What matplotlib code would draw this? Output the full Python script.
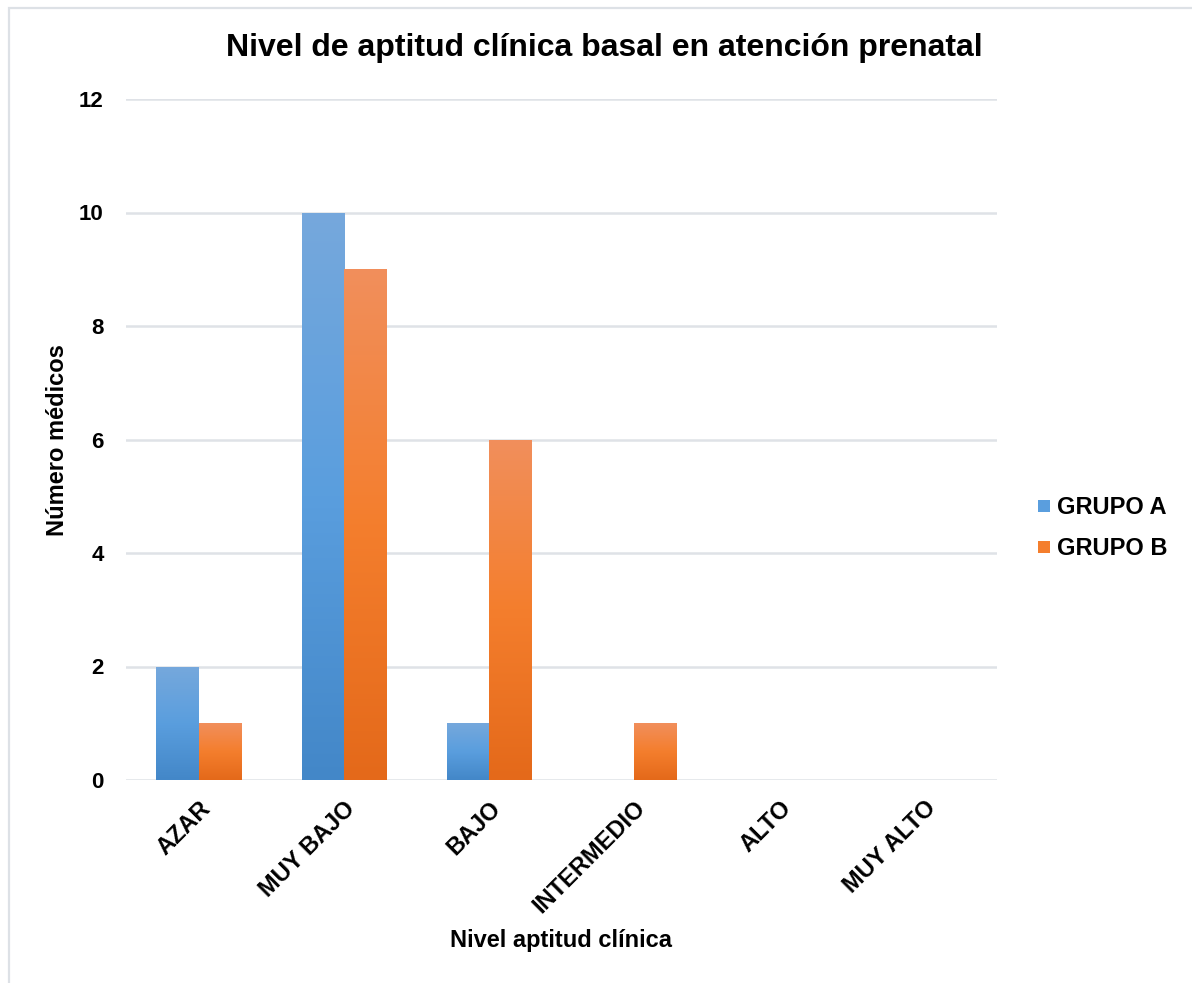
import numpy as np
import matplotlib
matplotlib.use("Agg")
import matplotlib.pyplot as plt
from matplotlib.colors import LinearSegmentedColormap
from matplotlib.patches import Rectangle
from matplotlib.lines import Line2D

plt.rcParams['font.family'] = ['Liberation Sans', 'DejaVu Sans']
plt.rcParams['font.weight'] = 'bold'

categories = ["AZAR", "MUY BAJO", "BAJO", "INTERMEDIO", "ALTO", "MUY ALTO"]
grupo_a = [2, 10, 1, 0, 0, 0]
grupo_b = [1, 9, 6, 1, 0, 0]
series_names = ["GRUPO A", "GRUPO B"]
y_ticks = [0, 2, 4, 6, 8, 10, 12]

# top -> bottom gradient stops for each series
grad_a = ["#76A8DC", "#5A9EDE", "#4387C8"]
grad_b = ["#F18F5C", "#F47E2D", "#E4691A"]

W, H = 1192, 983
fig = plt.figure(figsize=(W / 100, H / 100), dpi=100)
ax = fig.add_axes([126 / W, 1 - 780 / H, (997 - 126) / W, (780 - 99) / H])

x = np.arange(len(categories))
bw = 0.29


def gradient_bars(xpos, vals, stops, label):
    bars = ax.bar(xpos, vals, bw, color=stops[1], label=label, zorder=3,
                  linewidth=0)
    cmap = LinearSegmentedColormap.from_list("g", stops[::-1])
    grad = np.linspace(0, 1, 256).reshape(-1, 1)
    for b in bars:
        h = b.get_height()
        if h <= 0:
            continue
        x0 = b.get_x()
        im = ax.imshow(grad, cmap=cmap, origin="lower", aspect="auto",
                       extent=[x0, x0 + b.get_width(), 0, h], zorder=3.5,
                       interpolation="bicubic")
        im.set_clip_path(b)
    return bars


gradient_bars(x - bw / 2, grupo_a, grad_a, series_names[0])
gradient_bars(x + bw / 2, grupo_b, grad_b, series_names[1])

ax.set_xlim(-0.5, len(categories) - 0.5)
ax.set_ylim(0, 12)
ax.set_yticks(y_ticks)
ax.set_xticks(x)
ax.set_xticklabels(categories, rotation=45, ha="right", rotation_mode="anchor",
                   fontsize=17, fontweight="bold")
ax.tick_params(axis="y", labelsize=16, length=0, pad=16)
ax.tick_params(axis="x", length=0, pad=12)
for lbl in ax.get_yticklabels():
    lbl.set_fontweight("bold")

ax.grid(axis="y", color="#DFE2E7", linewidth=1.8, zorder=0)
ax.set_axisbelow(True)
for s in ax.spines.values():
    s.set_visible(False)

fig.text(604 / W, 1 - 48 / H, "Nivel de aptitud clínica basal en atención prenatal",
         ha="center", va="center", fontsize=23, fontweight="bold")
fig.text(58 / W, 1 - 440 / H, "Número médicos", rotation=90,
         ha="center", va="center", fontsize=17, fontweight="bold")
fig.text(561 / W, 1 - 941 / H, "Nivel aptitud clínica",
         ha="center", va="center", fontsize=17, fontweight="bold")

handles = [Line2D([], [], marker="s", linestyle="none", markersize=9,
                  markerfacecolor=grad_a[1], markeredgewidth=0),
           Line2D([], [], marker="s", linestyle="none", markersize=9,
                  markerfacecolor=grad_b[1], markeredgewidth=0)]
fig.legend(handles, series_names, loc="center left",
           bbox_to_anchor=(1011 / W, 1 - 528 / H), frameon=False,
           handletextpad=0.05, handlelength=1.0, labelspacing=0.75,
           prop={"weight": "bold", "size": 17})

# light frame around the chart
fig.add_artist(Rectangle((9 / W, -0.1), 1.2, 1 - 8 / H + 0.1,
                         transform=fig.transFigure, fill=False,
                         edgecolor="#DDE1E6", linewidth=1.6))

fig.savefig("out.png", dpi=100)
